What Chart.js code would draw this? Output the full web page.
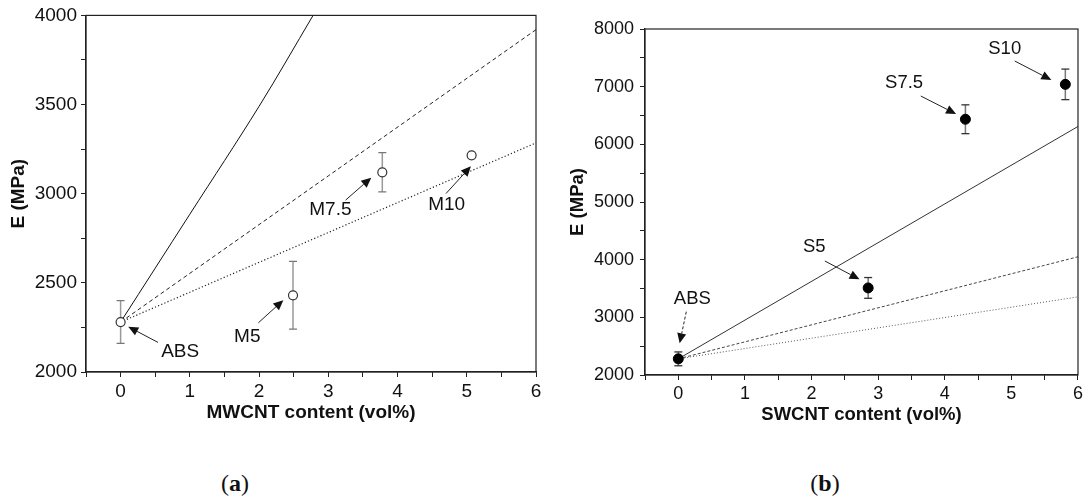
<!DOCTYPE html>
<html>
<head>
<meta charset="utf-8">
<script src="https://cdn.jsdelivr.net/npm/chart.js@4.4.1/dist/chart.umd.min.js"></script>
<style>
  body { margin: 0; background: #fff; width: 1086px; height: 503px; position: relative; overflow: hidden; }
  .panel { position: absolute; top: 0; }
  .cap { position: absolute; top: 470px; font-family: "Liberation Serif", serif; font-size: 24px; color: #111; transform: translateX(-50%); }
</style>
</head>
<body>
<div class="panel" style="left:0"><canvas id="chartA" width="545" height="440"></canvas></div>
<div class="panel" style="left:545px"><canvas id="chartB" width="541" height="440"></canvas></div>
<div class="cap" style="left:235px">(<b>a</b>)</div>
<div class="cap" style="left:825px">(<b>b</b>)</div>
<script>
// MWCNT composites: measured modulus and std. deviation
var mwcntX = [0, 2.49, 3.78, 5.07];
var mwcntE = [2280, 2430, 3120, 3215];
var mwcntErr = [120, 190, 110, 10];
var mwcntNames = ['ABS', 'M5', 'M7.5', 'M10'];

// MWCNT model curves
var mwUpperX = [0, 1, 2, 2.78];
var mwUpperE = [2280, 2885, 3490, 4000];
var mwMidX = [0, 3, 6];
var mwMidE = [2280, 3100, 3920];
var mwLowX = [0, 6];
var mwLowE = [2280, 3285];

// SWCNT composites
var swcntX = [0, 2.85, 4.31, 5.81];
var swcntE = [2280, 3510, 6435, 7040];
var swcntErr = [120, 180, 250, 265];
var swcntNames = ['ABS', 'S5', 'S7.5', 'S10'];

// SWCNT model curves
var swUpperX = [0, 6];
var swUpperE = [2280, 6310];
var swMidX = [0, 6];
var swMidE = [2280, 4050];
var swLowX = [0, 6];
var swLowE = [2280, 3355];

// labelled ticks
var xTickLabels = [0, 1, 2, 3, 4, 5, 6];
var yTickLabelsA = [2000, 2500, 3000, 3500, 4000];
var yTickLabelsB = [2000, 3000, 4000, 5000, 6000, 7000, 8000];

// callout placement (data units): label centre, arrow tail, arrow head
var calloutsA = [
  { at: [0.86, 2114], from: [0.54, 2166], to: [0.11, 2254] },
  { at: [1.83, 2198], from: [1.99, 2276], to: [2.35, 2403] },
  { at: [3.03, 2908], from: [3.25, 2964], to: [3.62, 3090] },
  { at: [4.71, 2936], from: [4.70, 3001], to: [5.06, 3154] }
];
var calloutsB = [
  { at: [0.21, 3315], from: [0.12, 3098], to: [0.02, 2550], dashed: true },
  { at: [2.04, 4225], from: [2.20, 3977], to: [2.72, 3659] },
  { at: [3.39, 7058], from: [3.64, 6838], to: [4.17, 6526] },
  { at: [4.90, 7648], from: [5.05, 7445], to: [5.60, 7116] }
];

var FONT = '"Liberation Sans", Arial, sans-serif';

function xy(xs, ys) {
  return xs.map(function (x, i) { return { x: x, y: ys[i] }; });
}

function inList(list, v) {
  return list.some(function (t) { return Math.abs(t - v) < 1e-6; });
}

// one two-point dataset per error bar, caps drawn as 'line' points
function errorBars(xs, ys, errs, barColor, capColor) {
  return xs.map(function (x, i) {
    return {
      data: [{ x: x, y: ys[i] - errs[i] }, { x: x, y: ys[i] + errs[i] }],
      showLine: true,
      borderColor: barColor,
      borderWidth: 1.5,
      pointStyle: 'line',
      pointRadius: 4,
      pointBorderColor: capColor,
      pointBorderWidth: 1.3,
      order: 3
    };
  });
}

function curve(xs, ys, color, dash, width, tension) {
  return {
    data: xy(xs, ys),
    showLine: true,
    borderColor: color,
    borderWidth: width || 1,
    borderDash: dash,
    tension: tension || 0,
    pointRadius: 0,
    order: 1
  };
}

var frame = {
  id: 'frame',
  afterDraw: function (chart) {
    var a = chart.chartArea, c = chart.ctx;
    c.save();
    c.strokeStyle = '#222';
    c.lineWidth = 1.2;
    c.strokeRect(a.left, a.top, a.right - a.left, a.bottom - a.top);
    c.restore();
  }
};

var callouts = {
  id: 'callouts',
  afterDatasetsDraw: function (chart, args, opts) {
    var c = chart.ctx, xs = chart.scales.x, ys = chart.scales.y;
    c.save();
    c.font = opts.size + 'px ' + FONT;
    c.fillStyle = '#111';
    c.strokeStyle = '#222';
    c.textAlign = 'center';
    c.textBaseline = 'middle';
    opts.items.forEach(function (it, i) {
      c.fillText(opts.names[i], xs.getPixelForValue(it.at[0]), ys.getPixelForValue(it.at[1]));
      var x1 = xs.getPixelForValue(it.from[0]), y1 = ys.getPixelForValue(it.from[1]);
      var x2 = xs.getPixelForValue(it.to[0]), y2 = ys.getPixelForValue(it.to[1]);
      var ang = Math.atan2(y2 - y1, x2 - x1), head = 10, half = 4.5;
      var bx = x2 - head * Math.cos(ang), by = y2 - head * Math.sin(ang);
      c.lineWidth = 1;
      c.setLineDash(it.dashed ? [3, 2] : []);
      c.beginPath();
      c.moveTo(x1, y1);
      c.lineTo(bx, by);
      c.stroke();
      c.setLineDash([]);
      c.beginPath();
      c.moveTo(x2, y2);
      c.lineTo(bx + half * Math.sin(ang), by - half * Math.cos(ang));
      c.lineTo(bx - half * Math.sin(ang), by + half * Math.cos(ang));
      c.closePath();
      c.fill();
    });
    c.restore();
  }
};

function makeScales(o) {
  return {
    x: {
      type: 'linear', min: -0.5, max: 6,
      afterFit: function (s) { s.height = o.xBoxH; },
      ticks: {
        stepSize: 0.5, autoSkip: false, maxRotation: 0, color: '#111', padding: 3,
        font: { family: FONT, size: o.fs },
        callback: function (v) { return inList(xTickLabels, v) ? v : ''; }
      },
      grid: { drawOnChartArea: false, tickLength: 5, tickColor: '#222' },
      border: { color: '#222', width: 1.2 },
      title: {
        display: true, text: o.xTitle, color: '#111',
        font: { family: FONT, size: o.ts, weight: 'bold' },
        padding: { top: 0, bottom: 0 }
      }
    },
    y: {
      type: 'linear', min: o.yMin, max: o.yMax,
      afterFit: function (s) { s.width = o.yBoxW; },
      ticks: {
        stepSize: o.yStep, autoSkip: false, color: '#111', padding: o.yPad,
        font: { family: FONT, size: o.fs },
        callback: function (v) { return inList(o.yLabels, v) ? v : ''; }
      },
      grid: { drawOnChartArea: false, tickLength: 5, tickColor: '#222' },
      border: { color: '#222', width: 1.2 },
      title: {
        display: true, text: 'E (MPa)', color: '#111',
        font: { family: FONT, size: o.ts, weight: 'bold' },
        padding: { top: o.yTitlePad, bottom: 0 }
      }
    }
  };
}

new Chart(document.getElementById('chartA'), {
  type: 'scatter',
  data: {
    datasets: [
      curve(mwUpperX, mwUpperE, '#111', [], 1, 0.35),
      curve(mwMidX, mwMidE, '#222', [4, 3]),
      curve(mwLowX, mwLowE, '#222', [1.2, 2.2], 1.2),
      {
        data: xy(mwcntX, mwcntE),
        pointRadius: 4.5,
        pointBackgroundColor: '#fff',
        pointBorderColor: '#333',
        pointBorderWidth: 1.2,
        order: 0
      }
    ].concat(errorBars(mwcntX, mwcntE, mwcntErr, '#999', '#777'))
  },
  options: {
    responsive: false,
    animation: false,
    events: [],
    layout: { padding: { left: 0, top: 15, right: 9, bottom: 16 } },
    scales: makeScales({
      yMin: 2000, yMax: 4000, yStep: 250, yLabels: yTickLabelsA,
      xTitle: 'MWCNT content (vol%)', fs: 19, ts: 19,
      xBoxH: 52, yBoxW: 86, yPad: 4, yTitlePad: 7
    }),
    plugins: {
      legend: { display: false },
      tooltip: { enabled: false },
      callouts: { items: calloutsA, names: mwcntNames, size: 19 }
    }
  },
  plugins: [frame, callouts]
});

new Chart(document.getElementById('chartB'), {
  type: 'scatter',
  data: {
    datasets: [
      curve(swUpperX, swUpperE, '#333', []),
      curve(swMidX, swMidE, '#444', [3, 2]),
      curve(swLowX, swLowE, '#555', [1, 2]),
      {
        data: xy(swcntX, swcntE),
        pointRadius: 5,
        pointBackgroundColor: '#000',
        pointBorderColor: '#000',
        pointBorderWidth: 1,
        order: 0
      }
    ].concat(errorBars(swcntX, swcntE, swcntErr, '#777', '#333'))
  },
  options: {
    responsive: false,
    animation: false,
    events: [],
    layout: { padding: { left: 0, top: 29, right: 6, bottom: 14 } },
    scales: makeScales({
      yMin: 2000, yMax: 8000, yStep: 500, yLabels: yTickLabelsB,
      xTitle: 'SWCNT content (vol%)', fs: 18, ts: 18.5,
      xBoxH: 51, yBoxW: 100, yPad: 6, yTitlePad: 22
    }),
    plugins: {
      legend: { display: false },
      tooltip: { enabled: false },
      callouts: { items: calloutsB, names: swcntNames, size: 18.5 }
    }
  },
  plugins: [frame, callouts]
});
</script>
</body>
</html>
